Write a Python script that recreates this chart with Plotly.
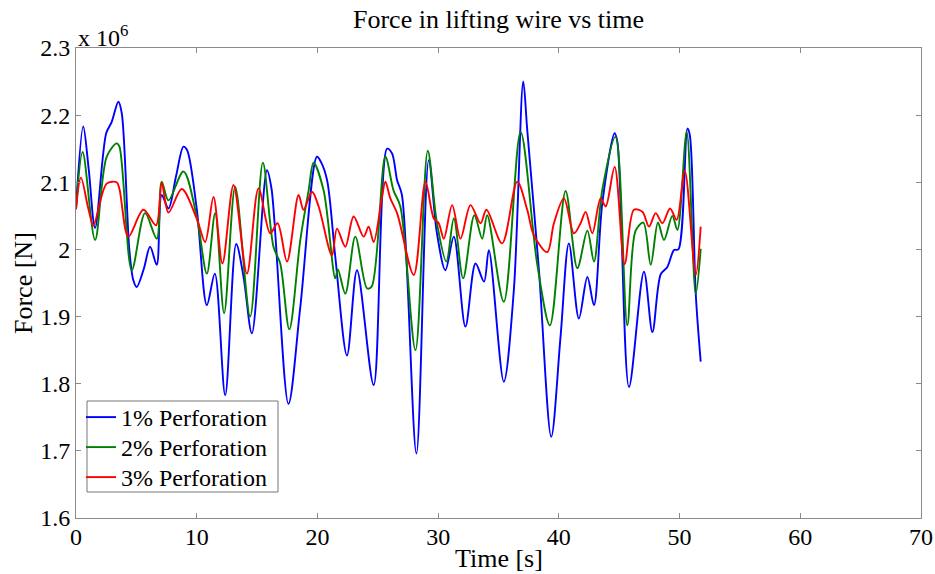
import plotly.graph_objects as go

# Time [s] and force [x 1e6 N]
t_1pct = [0.0, 0.6, 1.05, 1.58, 2.5, 2.96, 3.51, 3.79, 4.42, 4.75, 5.03, 5.6, 6.14, 6.69, 7.1, 7.66, 8.3, 8.9, 9.2,
          10.0, 10.84, 11.5, 12.36, 13.27, 13.88, 14.57, 15.82, 16.2, 17.6, 18.58, 19.96, 20.3, 20.8, 21.48, 22.45,
          23.28, 24.66, 25.77, 26.18, 26.6, 27.0, 28.2, 29.22, 29.9, 30.6, 31.3, 32.26, 33.1, 33.8, 34.2, 35.44,
          36.27, 37.05, 37.38, 38.35, 39.37, 40.14, 40.83, 41.66, 42.36, 42.91, 43.6, 44.62, 44.85, 45.81, 47.05,
          47.75, 48.44, 48.99, 49.54, 49.9, 50.65, 50.85, 51.34, 51.75]
f_1pct = [2.062, 2.183, 2.12, 2.032, 2.173, 2.19, 2.22, 2.203, 1.999, 1.954, 1.944, 1.97, 2.004, 1.977, 2.081, 2.061,
          2.11, 2.153, 2.148, 2.061, 1.917, 1.964, 1.783, 2.008, 1.959, 1.875, 2.118, 2.09, 1.770, 1.914, 2.138, 2.13,
          2.103, 1.989, 1.842, 1.969, 1.798, 2.15, 2.143, 2.103, 2.081, 1.696, 2.133, 2.024, 1.969, 2.019, 1.885,
          1.979, 1.952, 1.999, 1.803, 1.939, 2.25, 2.178, 1.969, 1.721, 1.870, 2.009, 1.897, 1.959, 1.917, 2.069,
          2.173, 2.16, 1.795, 1.967, 1.877, 1.963, 1.974, 1.999, 2.00, 2.180, 2.17, 1.934, 1.833]

t_2pct = [0.0, 0.55, 1.58, 2.54, 3.37, 3.6, 4.62, 5.72, 6.69, 7.1, 7.66, 8.9, 10.0, 10.84, 11.53, 12.27, 13.19, 14.43,
          15.48, 16.36, 16.92, 17.67, 18.58, 19.27, 19.68, 20.51, 21.48, 21.7, 22.31, 23.14, 24.11, 24.5, 25.63, 26.3,
          26.87, 28.12, 29.14, 29.9, 30.68, 31.3, 32.07, 33.0, 33.65, 34.06, 35.44, 36.83, 38.2, 39.26, 40.56, 41.53,
          42.36, 42.91, 43.6, 44.7, 45.67, 46.36, 47.0, 47.61, 48.21, 48.71, 49.4, 49.82, 50.59, 51.34, 51.75]
f_2pct = [2.06, 2.145, 2.014, 2.138, 2.158, 2.153, 1.969, 2.054, 2.016, 2.101, 2.073, 2.116, 2.049, 1.964, 2.054, 1.905,
          2.093, 1.900, 2.129, 2.004, 1.979, 1.881, 2.014, 2.088, 2.129, 2.088, 1.957, 1.97, 1.934, 2.019, 1.942, 1.945,
          2.138, 2.088, 2.064, 1.85, 2.147, 2.039, 1.982, 2.046, 1.957, 2.051, 2.016, 2.051, 1.922, 2.175, 1.979, 1.887,
          2.087, 1.972, 2.028, 1.982, 2.089, 2.168, 1.887, 2.028, 2.04, 1.977, 2.04, 2.014, 2.05, 2.029, 2.175, 1.934,
          2.001]

t_3pct = [0.0, 0.41, 1.02, 1.44, 2.54, 3.37, 3.6, 4.34, 5.58, 6.63, 7.1, 7.66, 8.76, 10.0, 10.7, 11.39, 12.13, 13.05,
          14.16, 15.12, 16.09, 16.7, 17.48, 18.44, 18.85, 19.55, 20.1, 21.2, 21.62, 22.31, 23.0, 23.83, 24.24, 24.66,
          25.35, 25.63, 26.04, 26.6, 27.98, 28.95, 29.64, 30.05, 30.47, 31.16, 31.85, 32.68, 33.51, 34.0, 35.3, 36.55,
          37.38, 37.93, 39.04, 39.59, 40.42, 41.25, 41.8, 42.22, 42.77, 43.46, 43.88, 44.62, 45.45, 46.22, 46.92,
          47.47, 48.02, 48.58, 49.21, 49.76, 50.43, 51.34, 51.75]
f_3pct = [2.06, 2.107, 2.061, 2.036, 2.098, 2.10, 2.09, 2.019, 2.059, 2.036, 2.099, 2.055, 2.09, 2.046, 2.011, 2.078,
          1.979, 2.096, 1.964, 2.091, 2.024, 2.039, 1.982, 2.081, 2.059, 2.086, 2.064, 1.991, 2.031, 2.004, 2.049, 2.019,
          2.034, 2.011, 2.078, 2.101, 2.076, 2.054, 1.962, 2.101, 2.046, 2.039, 2.016, 2.066, 2.016, 2.066, 2.039, 2.059,
          2.009, 2.101, 2.059, 2.021, 1.996, 2.039, 2.076, 2.024, 2.039, 2.056, 2.024, 2.076, 2.064, 2.123, 1.978, 2.059,
          2.056, 2.034, 2.054, 2.039, 2.061, 2.044, 2.117, 1.962, 2.034]

series_names = ["1% Perforation", "2% Perforation", "3% Perforation"]
series_colors = ["#0000FF", "#008000", "#FF0000"]

x_ticks = [0, 10, 20, 30, 40, 50, 60, 70]
y_ticks = [1.6, 1.7, 1.8, 1.9, 2.0, 2.1, 2.2, 2.3]
y_tick_labels = ["1.6", "1.7", "1.8", "1.9", "2", "2.1", "2.2", "2.3"]

FONT = "Liberation Serif"
W, H = 935, 574
ML, MR, MT, MB = 76, 14, 48, 56
PW, PH = W - ML - MR, H - MT - MB          # plot area size in px
PX0, PY1 = ML, MT + PH                      # left / bottom of plot area in page px


def px_x(xabs):
    return (xabs - PX0) / PW


def px_y(yabs):
    return (PY1 - yabs) / PH


fig = go.Figure()
legend_ids = ["legend", "legend2", "legend3"]
for tt, ff, name, col, lg in zip([t_1pct, t_2pct, t_3pct], [f_1pct, f_2pct, f_3pct],
                                 series_names, series_colors, legend_ids):
    fig.add_trace(go.Scatter(x=tt, y=ff, mode="lines", name=name, legend=lg,
                             line=dict(color=col, width=1.9, shape="spline", smoothing=0.9)))

axis_common = dict(showline=True, linecolor="#8a8a8a", linewidth=1, mirror="ticks", ticks="inside",
                   ticklen=5, tickcolor="#8a8a8a", showgrid=False, zeroline=False, automargin=False,
                   tickfont=dict(family=FONT, size=24, color="black"))

legend_common = dict(xanchor="left", yanchor="middle", bgcolor="rgba(0,0,0,0)", borderwidth=0,
                     font=dict(family=FONT, size=24, color="black"))
legend_centers = [417.5, 447.5, 477.5]

fig.update_layout(
    width=W, height=H,
    margin=dict(l=ML, r=MR, t=MT, b=MB),
    paper_bgcolor="white", plot_bgcolor="white",
    xaxis=dict(range=[0, 70], tickvals=x_ticks, ticklabelstandoff=-3, **axis_common),
    yaxis=dict(range=[1.6, 2.3], tickvals=y_ticks, ticktext=y_tick_labels, **axis_common),
    legend=dict(x=px_x(81), y=px_y(legend_centers[0]), **legend_common),
    legend2=dict(x=px_x(81), y=px_y(legend_centers[1]), **legend_common),
    legend3=dict(x=px_x(81), y=px_y(legend_centers[2]), **legend_common),
    showlegend=True,
)

# legend frame
fig.add_shape(type="rect", xref="paper", yref="paper", x0=px_x(87), x1=px_x(278), y0=px_y(492), y1=px_y(401),
              line=dict(color="#777777", width=1), fillcolor="white", layer="above")

# title and axis titles as text placed in pixels
fig.add_annotation(text="Force in lifting wire vs time", xref="paper", yref="paper",
                   x=0.5, y=px_y(20), xanchor="center", yanchor="middle",
                   showarrow=False, font=dict(family=FONT, size=26, color="black"))
fig.add_annotation(text="Time [s]", xref="paper", yref="paper",
                   x=0.5, y=px_y(558), xanchor="center", yanchor="middle",
                   showarrow=False, font=dict(family=FONT, size=26, color="black"))
fig.add_annotation(text="Force [N]", xref="paper", yref="paper", textangle=-90,
                   x=px_x(23), y=0.5, xanchor="center", yanchor="middle",
                   showarrow=False, font=dict(family=FONT, size=26, color="black"))
fig.add_annotation(text="x 10<sup>6</sup>", xref="paper", yref="paper", x=0.0, y=1.0,
                   xanchor="left", yanchor="bottom", yshift=-5, showarrow=False,
                   font=dict(family=FONT, size=24, color="black"))

# remove the browser's default 8px page margin so the figure fills the window exactly
fig.write_html("out.html", config={"displayModeBar": False},
               post_script="document.body.style.margin='0px';document.body.style.overflow='hidden';")
